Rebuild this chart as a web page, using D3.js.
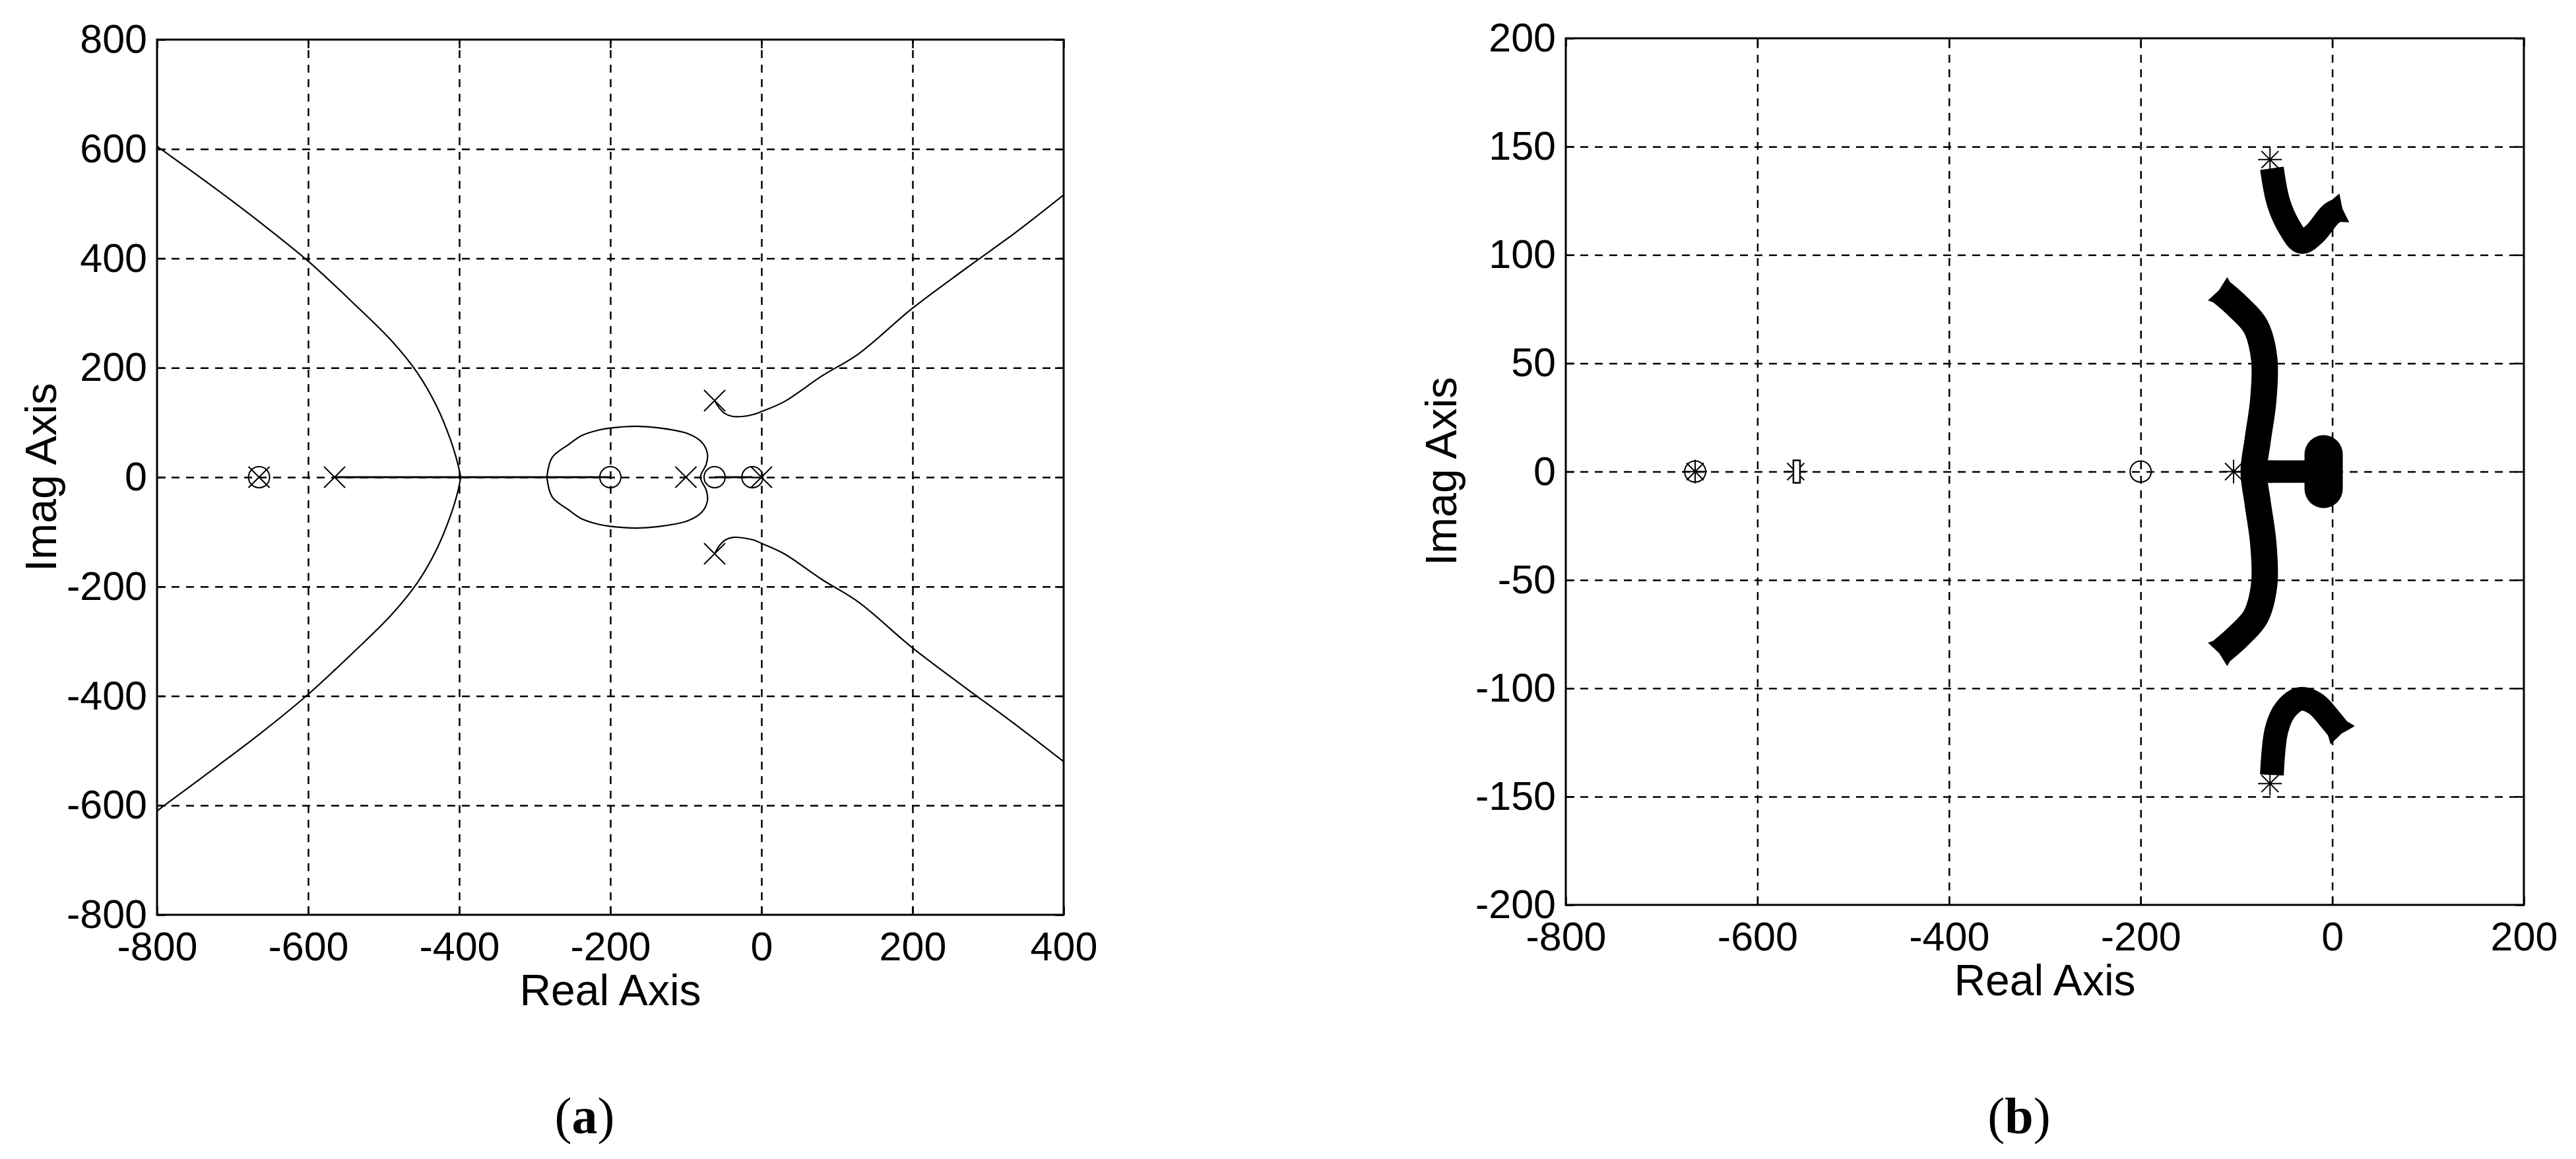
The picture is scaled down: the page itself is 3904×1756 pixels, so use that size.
<!DOCTYPE html>
<html lang="en">
<head>
<meta charset="UTF-8">
<title>Root locus (a) and (b)</title>
<script src="https://cdn.jsdelivr.net/npm/d3@7"></script>
<style>
  body { margin:0; background:#fff; }
  svg { display:block; font-family:'Liberation Sans', Arial, sans-serif; }
  .grid line { stroke:#000; stroke-width:2.5; stroke-dasharray:12,10; }
  .grid path, .ticks path { display:none; }
  .ticks line { stroke:#000; stroke-width:2.5; }
  .caption { font-family:'Liberation Serif','Times New Roman',serif; font-size:78px; }
</style>
</head>
<body>
<svg id="chart" width="3904" height="1756"></svg>
<script>
// ---------- panel (a) data ----------
const xTicksA = [-800, -600, -400, -200, 0, 200, 400]
const yTicksA = [-800, -600, -400, -200, 0, 200, 400, 600, 800]

const leftUpperA = [[-800,605],[-720,525],[-660,462],[-600,395],[-540,318],[-490,250],[-455,190],[-430,130],[-412,70],[-402,25],[-398,0]]
const leftLowerA = [[-398,0],[-402,-27],[-412,-72],[-430,-132],[-455,-192],[-490,-252],[-540,-320],[-600,-397],[-660,-465],[-720,-528],[-800,-610]]
const rightUpperA = [[-62,140],[-55,125],[-48,116],[-38,111],[-25,111],[-10,115],[0,120],[30,138],[80,185],[128,225],[200,309],[270,381],[336,447],[400,516]]
const rightLowerA = [[-62,-140],[-55,-124],[-47,-114],[-37,-110],[-24,-111],[-10,-115],[0,-121],[30,-140],[80,-187],[128,-228],[200,-312],[270,-385],[336,-452],[400,-520]]
const loopUpperA = [[-81,0],[-79,8],[-73,24],[-71.5,43],[-79,64],[-98,80],[-135,90],[-165,93],[-199,90],[-216,86],[-238,76],[-255,60],[-277,36],[-284,0]]
const loopLowerA = [[-81,0],[-79,-8],[-73,-24],[-71.5,-43],[-79,-64],[-98,-80],[-135,-90],[-165,-93],[-199,-90],[-216,-86],[-238,-76],[-255,-60],[-277,-36],[-284,0]]
const realSegA1 = [[-565,0],[-200,0]]
const realSegA2 = [[-62,0],[-12,0]]
const polesA = [[-665,0],[-565,0],[-100,0],[-62,140],[-62,-140],[0,0]]
const zerosA = [[-665,0],[-200,0],[-62,0],[-12,0]]

// ---------- panel (b) data ----------
const xTicksB = [-800, -600, -400, -200, 0, 200]
const yTicksB = [-200, -150, -100, -50, 0, 50, 100, 150, 200]

const bandUpperB = [[-63,140],[-56,124],[-45,113],[-32,106],[-18,110],[-1,119],[8,121]]
const bandMiddleB = [[-116,83],[-98,76],[-80,67],[-71,52],[-72,33],[-78,14],[-82,0],[-78,-14],[-72,-33],[-71,-52],[-80,-67],[-98,-76],[-116,-83]]
const bandLowerB = [[-63,-140],[-58,-119],[-49,-110],[-34,-105],[-18,-107],[-1,-115],[8,-120]]
const bandRealB = [[-70,0],[-25,0]]
const blobB = [[-9,8],[-9,-8]]
const polesB = [[-665,0],[-560,0],[-103,0],[-65,144],[-65,-144]]
const zerosB = [[-665,0],[-200,0],[-64,0]]
const rectsB = [[-559,0]]

/* global d3 */
let svg = d3.select("#chart")

// small barbed end used on the thick loci of (b)
svg.append("defs").append("marker")
  .attr("id", "flare")
  .attr("markerUnits", "userSpaceOnUse")
  .attr("orient", "auto-start-reverse")
  .attr("viewBox", "-20 -40 40 80")
  .attr("markerWidth", 40).attr("markerHeight", 80)
  .attr("refX", 0).attr("refY", 0)
  .append("path")
  .attr("d", "M-6,-18 L7,-23 L4,0 L7,23 L-6,18 Z")
  .attr("fill", "#000")

function panel(box, xDom, yDom, xTicks, yTicks, id){
    let x = d3.scaleLinear().domain(xDom).range([box.left, box.right])
    let y = d3.scaleLinear().domain(yDom).range([box.bottom, box.top])
    let w = box.right - box.left, h = box.bottom - box.top

    svg.append("clipPath").attr("id", "clip" + id)
      .append("rect").attr("x", box.left).attr("y", box.top).attr("width", w).attr("height", h)

    // dashed grid
    svg.append("g").attr("class", "grid")
      .attr("transform", `translate(0,${box.bottom})`)
      .call(d3.axisBottom(x).tickValues(xTicks.slice(1, -1)).tickSize(-h).tickFormat(""))
    svg.append("g").attr("class", "grid")
      .attr("transform", `translate(${box.left},0)`)
      .call(d3.axisLeft(y).tickValues(yTicks.slice(1, -1)).tickSize(-w).tickFormat(""))

    // inward ticks on all sides
    svg.append("g").attr("class", "ticks").attr("transform", `translate(0,${box.bottom})`)
      .call(d3.axisBottom(x).tickValues(xTicks).tickSize(-13).tickFormat(""))
    svg.append("g").attr("class", "ticks").attr("transform", `translate(0,${box.top})`)
      .call(d3.axisTop(x).tickValues(xTicks).tickSize(-13).tickFormat(""))
    svg.append("g").attr("class", "ticks").attr("transform", `translate(${box.left},0)`)
      .call(d3.axisLeft(y).tickValues(yTicks).tickSize(-13).tickFormat(""))
    svg.append("g").attr("class", "ticks").attr("transform", `translate(${box.right},0)`)
      .call(d3.axisRight(y).tickValues(yTicks).tickSize(-13).tickFormat(""))

    // tick labels
    let xa = svg.append("g").attr("transform", `translate(0,${box.bottom})`)
      .call(d3.axisBottom(x).tickValues(xTicks).tickSize(0).tickPadding(26).tickFormat(d => String(d)))
    let ya = svg.append("g").attr("transform", `translate(${box.left},0)`)
      .call(d3.axisLeft(y).tickValues(yTicks).tickSize(0).tickPadding(15).tickFormat(d => String(d)))
    for (let a of [xa, ya]){
        a.attr("font-family", null).attr("font-size", null)
        a.select(".domain").remove()
        a.selectAll("text").style("font-size", "61px").attr("fill", "#000")
    }

    svg.append("rect")
      .attr("x", box.left).attr("y", box.top).attr("width", w).attr("height", h)
      .attr("fill", "none").attr("stroke", "#000").attr("stroke-width", 3)

    let plot = svg.append("g").attr("clip-path", `url(#clip${id})`)
    return {x, y, plot}
}

function xMark(g, x, y, pts, s){
    g.selectAll(null).data(pts).enter().append("path")
      .attr("d", d => {
          let cx = x(d[0]), cy = y(d[1])
          return `M${cx-s},${cy-s}L${cx+s},${cy+s}M${cx-s},${cy+s}L${cx+s},${cy-s}`
      })
      .attr("stroke", "#000").attr("stroke-width", 2).attr("fill", "none")
}
function starMark(g, x, y, pts, s){
    g.selectAll(null).data(pts).enter().append("path")
      .attr("d", d => {
          let cx = x(d[0]), cy = y(d[1]), k = s * 0.72
          return `M${cx-k},${cy-k}L${cx+k},${cy+k}M${cx-k},${cy+k}L${cx+k},${cy-k}` +
                 `M${cx},${cy-s}L${cx},${cy+s}M${cx-s},${cy}L${cx+s},${cy}`
      })
      .attr("stroke", "#000").attr("stroke-width", 2).attr("fill", "none")
}
function oMark(g, x, y, pts, r){
    g.selectAll(null).data(pts).enter().append("ellipse")
      .attr("cx", d => x(d[0])).attr("cy", d => y(d[1]))
      .attr("rx", r).attr("ry", r)
      .attr("fill", "none").attr("stroke", "#000").attr("stroke-width", 2)
}

// ---------- (a) ----------
let A = panel({left:238, right:1612, top:60, bottom:1386}, [-800, 400], [-800, 800], xTicksA, yTicksA, "A")
let lineA = d3.line().x(d => A.x(d[0])).y(d => A.y(d[1])).curve(d3.curveCatmullRom)
for (let br of [leftUpperA, leftLowerA, rightUpperA, rightLowerA, loopUpperA, loopLowerA]){
    A.plot.append("path").attr("d", lineA(br))
      .attr("fill", "none").attr("stroke", "#000").attr("stroke-width", 2.2)
}
for (let seg of [realSegA1, realSegA2]){
    A.plot.append("path").attr("d", d3.line().x(d => A.x(d[0])).y(d => A.y(d[1]))(seg))
      .attr("fill", "none").attr("stroke", "#000").attr("stroke-width", 3)
}
xMark(A.plot, A.x, A.y, polesA, 16)
oMark(A.plot, A.x, A.y, zerosA, 16)

// ---------- (b) ----------
let B = panel({left:2373, right:3825, top:58, bottom:1371}, [-800, 200], [-200, 200], xTicksB, yTicksB, "B")
let lineB = d3.line().x(d => B.x(d[0])).y(d => B.y(d[1])).curve(d3.curveCatmullRom)
for (let br of [bandUpperB, bandLowerB]){
    B.plot.append("path").attr("d", lineB(br))
      .attr("fill", "none").attr("stroke", "#000").attr("stroke-width", 36)
      .attr("marker-end", "url(#flare)")
}
B.plot.append("path").attr("d", lineB(bandMiddleB))
  .attr("fill", "none").attr("stroke", "#000").attr("stroke-width", 40)
  .attr("marker-start", "url(#flare)").attr("marker-end", "url(#flare)")
B.plot.append("path").attr("d", lineB(bandRealB))
  .attr("fill", "none").attr("stroke", "#000").attr("stroke-width", 34)
B.plot.append("path").attr("d", lineB(blobB))
  .attr("fill", "none").attr("stroke", "#000").attr("stroke-width", 58).attr("stroke-linecap", "round")
starMark(B.plot, B.x, B.y, polesB, 18)
oMark(B.plot, B.x, B.y, zerosB, 16)
B.plot.selectAll(null).data(rectsB).enter().append("rect")
  .attr("x", d => B.x(d[0]) - 5).attr("y", d => B.y(d[1]) - 17)
  .attr("width", 10).attr("height", 34)
  .attr("fill", "#fff").attr("stroke", "#000").attr("stroke-width", 2.5)

// ---------- titles ----------
svg.append("text").text("Real Axis").attr("x", 925).attr("y", 1523)
  .attr("text-anchor", "middle").style("font-size", "66px")
svg.append("text").text("Real Axis").attr("x", 3099).attr("y", 1508)
  .attr("text-anchor", "middle").style("font-size", "66px")
svg.append("text").text("Imag Axis").attr("transform", "translate(85,723) rotate(-90)")
  .attr("text-anchor", "middle").style("font-size", "66px")
svg.append("text").text("Imag Axis").attr("transform", "translate(2207,714) rotate(-90)")
  .attr("text-anchor", "middle").style("font-size", "66px")

let capA = svg.append("text").attr("class", "caption").attr("x", 886).attr("y", 1717).attr("text-anchor", "middle")
capA.append("tspan").text("(")
capA.append("tspan").attr("font-weight", "bold").text("a")
capA.append("tspan").text(")")
let capB = svg.append("text").attr("class", "caption").attr("x", 3060).attr("y", 1717).attr("text-anchor", "middle")
capB.append("tspan").text("(")
capB.append("tspan").attr("font-weight", "bold").text("b")
capB.append("tspan").text(")")
</script>
</body>
</html>
